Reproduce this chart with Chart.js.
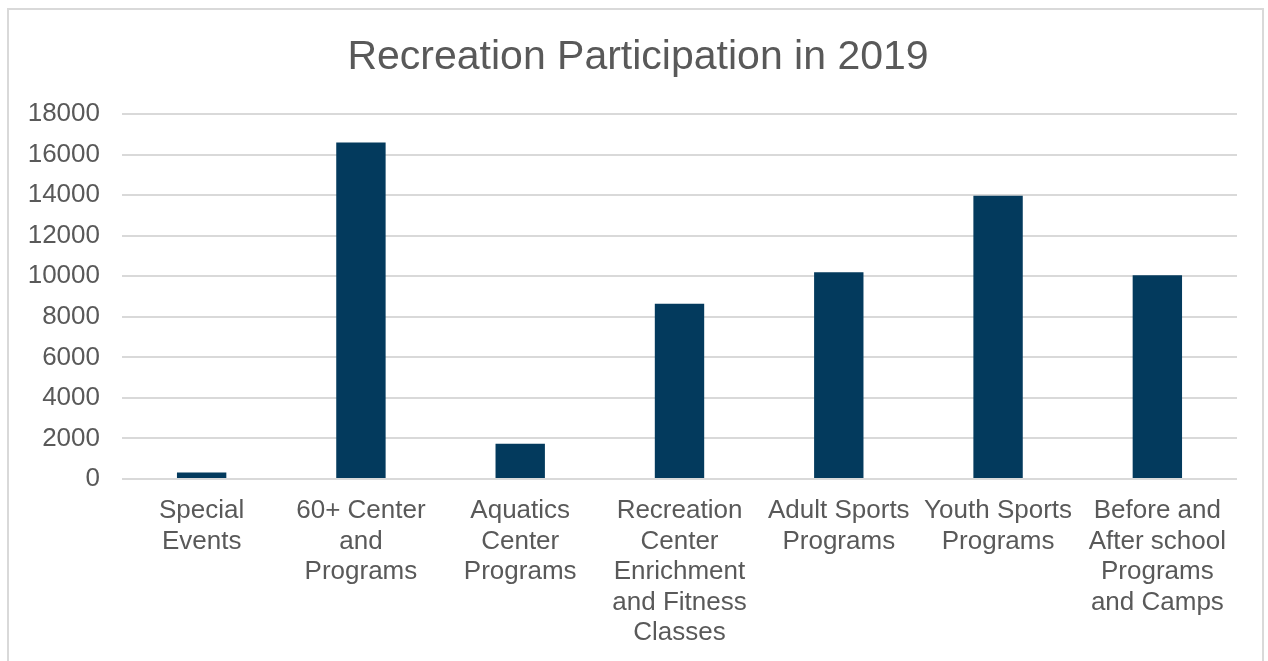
<!DOCTYPE html>
<html>
<head>
<meta charset="utf-8">
<script src="https://cdn.jsdelivr.net/npm/chart.js@4"></script>
<style>
    body { margin: 0; background: #fff; }
    .wrap { position: relative; width: 1268px; height: 661px; overflow: hidden; }
    .frame {
        position: absolute; left: 7px; top: 8px; width: 1257px; height: 700px;
        border: 2px solid #d9d9d9; box-sizing: border-box; pointer-events: none;
    }
</style>
</head>
<body>
<div class="wrap">
    <canvas id="myChart" width="1268" height="661"></canvas>
    <div class="frame"></div>
</div>
<script>
const categories = [
    ['Special', 'Events'],
    ['60+ Center', 'and', 'Programs'],
    ['Aquatics', 'Center', 'Programs'],
    ['Recreation', 'Center', 'Enrichment', 'and Fitness', 'Classes'],
    ['Adult Sports', 'Programs'],
    ['Youth Sports', 'Programs'],
    ['Before and', 'After school', 'Programs', 'and Camps']
];
const participation = [320, 16600, 1730, 8650, 10200, 13970, 10050];
const yTicks = [0, 2000, 4000, 6000, 8000, 10000, 12000, 14000, 16000, 18000];

const textColor = '#595959';
const font = 'Liberation Sans, Arial, sans-serif';

// title sits centred over the plot area rather than the whole canvas
const titleOverPlot = {
    id: 'titleOverPlot',
    afterLayout: (chart) => {
        const t = chart.titleBlock;
        if (t) {
            t.left = chart.chartArea.left - 83;
            t.right = chart.chartArea.right;
        }
    }
};

new Chart(document.getElementById('myChart'), {
    type: 'bar',
    data: {
        labels: categories,
        datasets: [{
            data: participation,
            backgroundColor: '#033a5d',
            borderWidth: 0,
            barPercentage: 0.31,
            categoryPercentage: 1
        }]
    },
    options: {
        responsive: false,
        animation: false,
        layout: {
            padding: { left: 6, right: 31, top: 0, bottom: 4 }
        },
        scales: {
            x: {
                grid: { display: false },
                border: { display: false },
                ticks: {
                    color: textColor,
                    font: { family: font, size: 26, lineHeight: 1.17 },
                    padding: 9,
                    maxRotation: 0,
                    autoSkip: false
                }
            },
            y: {
                min: 0,
                max: 18000,
                afterBuildTicks: (axis) => {
                    axis.ticks = yTicks.map(v => ({ value: v }));
                },
                afterFit: (axis) => {
                    axis.width = 116;
                },
                grid: { color: '#d9d9d9', lineWidth: 2, drawTicks: false },
                border: { display: false },
                ticks: {
                    color: textColor,
                    font: { family: font, size: 26 },
                    padding: 22,
                    callback: (v) => String(v)
                }
            }
        },
        plugins: {
            legend: { display: false },
            tooltip: { enabled: false },
            title: {
                display: true,
                text: 'Recreation Participation in 2019',
                color: textColor,
                font: { family: font, size: 41, weight: 'normal', lineHeight: 1.2 },
                padding: { top: 33, bottom: 32 }
            }
        }
    },
    plugins: [titleOverPlot]
});
</script>
</body>
</html>
